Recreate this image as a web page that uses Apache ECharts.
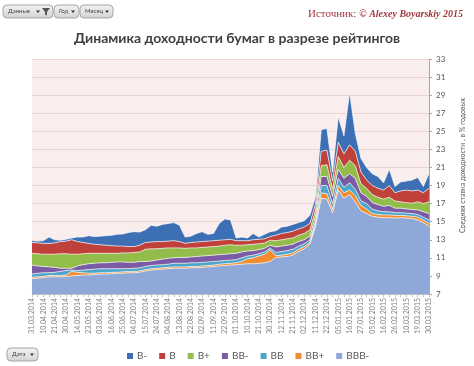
<!DOCTYPE html>
<html><head><meta charset="utf-8">
<script src="https://cdn.jsdelivr.net/npm/echarts@6/dist/echarts.min.js"></script>
<style>html,body{margin:0;padding:0;background:#fff}#c{width:474px;height:366px}</style>
</head><body><div id="c"></div>
<script>
// Tick labels of the date axis (every 2nd data point carries a label)
const dates = ['31.03.2014','10.04.2014','21.04.2014','30.04.2014','14.05.2014','23.05.2014','03.06.2014','16.06.2014','25.06.2014','04.07.2014','15.07.2014','24.07.2014','04.08.2014','13.08.2014','22.08.2014','02.09.2014','11.09.2014','22.09.2014','01.10.2014','10.10.2014','21.10.2014','30.10.2014','12.11.2014','21.11.2014','02.12.2014','11.12.2014','22.12.2014','05.01.2015','16.01.2015','27.01.2015','05.02.2015','16.02.2015','26.02.2015','10.03.2015','19.03.2015','30.03.2015'];
const yMin = 7, yMax = 33, yStep = 2;

// Stacked series values (bottom to top)
const bbbMinus = [8.7,8.75,8.8,8.9,8.9,8.9,8.95,9.0,9.05,9.1, 9.1,9.15,9.2,9.2,9.25,9.3,9.3,9.35,9.35,9.4, 9.55,9.65,9.7,9.75,9.8,9.85,9.85,9.85,9.9,9.9, 9.95,10.0,10.05,10.1,10.15,10.2,10.25,10.3,10.35,10.35, 10.4,10.45,10.6,11.05,11.1,11.15,11.3,11.7,12.0,12.5, 14.5,17.6,17.5,16.0,18.5,17.6,18.0,17.2,16.2,15.9, 15.6,15.5,15.45,15.45,15.4,15.45,15.4,15.35,15.2,14.9,14.5];
const bbPlus = [0.15,0.15,0.15,0.15,0.15,0.15,0.15,0.5,0.35,0.25, 0.2,0.15,0.15,0.15,0.15,0.1,0.15,0.15,0.15,0.15, 0.15,0.15,0.15,0.15,0.15,0.15,0.15,0.15,0.15,0.15, 0.15,0.15,0.15,0.2,0.2,0.2,0.2,0.3,0.55,0.65, 0.8,0.95,1.3,0.2,0.2,0.25,0.25,0.25,0.25,0.2, 0.3,0.6,0.6,0.4,0.5,0.6,0.5,0.7,0.6,0.5, 0.3,0.3,0.3,0.3,0.3,0.25,0.25,0.25,0.3,0.3,0.3];
const bb = [0.35,0.4,0.4,0.3,0.35,0.45,0.5,0.15,0.2,0.3, 0.4,0.45,0.45,0.45,0.4,0.4,0.35,0.3,0.35,0.35, 0.35,0.35,0.35,0.35,0.35,0.4,0.4,0.4,0.4,0.4, 0.4,0.4,0.4,0.35,0.35,0.35,0.35,0.4,0.3,0.3, 0.25,0.25,0.2,0.35,0.4,0.4,0.4,0.35,0.3,0.3, 0.3,0.8,0.9,0.6,0.8,0.6,0.8,0.7,0.5,0.6, 0.5,0.4,0.35,0.35,0.3,0.3,0.3,0.3,0.3,0.3,0.4];
const bbMinus = [1.0,0.8,0.7,0.65,0.55,0.35,0.25,0.2,0.5,0.6, 0.65,0.65,0.65,0.65,0.7,0.75,0.75,0.7,0.65,0.7, 0.55,0.5,0.55,0.6,0.65,0.6,0.65,0.65,0.65,0.7, 0.7,0.7,0.7,0.7,0.7,0.7,0.7,0.65,0.55,0.5, 0.45,0.4,0.3,0.6,0.6,0.6,0.55,0.5,0.45,0.4, 0.5,1.0,1.0,0.8,1.0,1.0,1.0,1.2,0.9,0.8, 0.7,0.7,0.6,0.7,0.5,0.5,0.45,0.45,0.5,0.6,0.7];
const bPlus = [1.3,1.35,1.35,1.4,1.45,1.6,1.6,1.55,1.3,1.2, 1.15,1.1,1.05,1.05,1.0,0.95,1.0,1.05,1.1,1.05, 1.35,1.35,1.25,1.2,1.15,1.1,1.05,1.0,1.0,0.95, 0.95,0.95,0.95,0.95,1.0,1.0,0.9,0.75,0.7,0.7, 0.65,0.6,0.55,0.7,0.7,0.7,0.7,0.7,0.7,0.7, 0.7,1.2,1.3,0.8,1.4,1.2,1.5,1.4,1.0,0.9, 0.9,0.8,0.8,0.9,0.8,0.7,0.7,0.7,0.9,0.9,1.3];
const bMid = [1.2,1.2,1.2,1.2,1.25,1.35,1.4,1.6,1.4,1.25, 1.1,1.0,0.95,0.9,0.85,0.8,0.75,0.7,0.65,0.75, 0.75,0.75,0.8,0.75,0.75,0.8,0.7,0.55,0.6,0.65, 0.65,0.65,0.65,0.65,0.6,0.6,0.5,0.5,0.45,0.5, 0.5,0.45,0.4,0.6,0.7,0.7,0.75,0.7,0.7,0.7, 0.7,1.6,1.6,0.9,1.6,1.5,1.7,1.6,1.3,0.9, 1.0,1.0,1.0,1.3,0.9,1.2,1.4,1.35,1.3,1.2,1.5];
const bMinus = [0.2,0.2,0.3,0.7,0.35,0.15,0.2,0.2,0.5,0.6, 0.85,0.85,0.95,1.05,1.15,1.3,1.35,1.55,1.65,1.45, 1.4,1.85,1.7,1.9,1.95,2.0,1.8,0.7,0.7,0.95, 1.1,0.75,0.8,1.85,2.3,2.15,0.3,0.4,0.3,0.7, 0.25,0.5,0.55,0.5,0.7,0.7,0.75,0.7,0.7,0.9, 0.8,2.4,2.4,1.0,2.8,2.0,5.8,2.0,1.5,1.4, 1.3,1.3,0.8,1.8,0.7,1.0,1.0,1.2,1.4,0.7,1.6];

const names = ['BBB-','BB+','BB','BB-','B+','B','B-'];
const values = [bbbMinus, bbPlus, bb, bbMinus, bPlus, bMid, bMinus];
const colors = ['#8EA8D8','#F28C2E','#4BA6C9','#7B5AA6','#92BD4B','#C0403A','#3D6FB4'];
const pointIds = bbbMinus.map((_, j) => 'p' + j);

const chart = echarts.init(document.getElementById('c'), null, {renderer:'canvas'});
const font = 'Lato, "Liberation Sans", sans-serif';

function button(x, y, w, label, funnel) {
  const children = [
    {type:'rect', shape:{x:0,y:0,width:w,height:13,r:4},
     style:{fill:new echarts.graphic.LinearGradient(0,0,0,1,[{offset:0,color:'#f4f4f4'},{offset:1,color:'#d2d2d2'}]), stroke:'#a6a6a6', lineWidth:1}},
    {type:'text', x:5, y:3.5, style:{text:label, fontSize:6, fontFamily:font, fill:'#444'}},
    {type:'polygon', shape:{points:[[w-(funnel?17:8),5.5],[w-(funnel?13:4),5.5],[w-(funnel?15:6),8]]}, style:{fill:'#333'}}
  ];
  if (funnel) children.push({type:'polygon', shape:{points:[[w-11,3],[w-3,3],[w-6,7],[w-6,10.5],[w-8,9.5],[w-8,7]]}, style:{fill:'#555'}});
  return {type:'group', x:x, y:y, children:children};
}

chart.setOption({
  backgroundColor:'#ffffff',
  animation:false,
  title:{text:'Динамика доходности бумаг в разрезе рейтингов', left:'center', top:26,
    textStyle:{fontSize:14, fontWeight:'bold', color:'#404040', fontFamily:font}},
  graphic:[
    button(3,5,50,'Данные',true), button(54,5,25,'Год',false), button(80,5,33,'Месяц',false),
    button(7,348,31,'Дата',false),
    {type:'text', left:308, top:9, style:{text:'{a|Источник: }{b|© Alexey Boyarskiy 2015}',
      rich:{a:{fontFamily:'"Liberation Serif", serif', fontSize:11, fill:'#A3373B'},
            b:{fontFamily:'"Liberation Serif", serif', fontSize:10, fontStyle:'italic', fontWeight:'bold', fill:'#A3373B'}}}}
  ],
  legend:{left:122, top:346, itemWidth:6, itemHeight:6, itemGap:12, icon:'rect',
    data:names.slice().reverse(), textStyle:{fontSize:10, color:'#595959', fontFamily:font, padding:[0,0,0,-1]}},
  grid:{left:32, right:45, top:59, bottom:72, show:true, backgroundColor:'#F9EDED', borderWidth:0},
  xAxis:{type:'category', data:pointIds, boundaryGap:false,
    axisLine:{lineStyle:{color:'#BFBFBF'}},
    axisTick:{show:true, interval:0, length:3, lineStyle:{color:'#BFBFBF'}},
    splitLine:{show:false},
    axisLabel:{rotate:90, interval:1, fontSize:7, color:'#808080', fontFamily:font, margin:4,
      formatter:(v, idx) => dates[idx/2] || ''}},
  yAxis:{type:'value', position:'right', min:yMin, max:yMax, interval:yStep,
    axisLine:{show:true, lineStyle:{color:'#A6A6A6'}},
    axisTick:{show:true, length:3, lineStyle:{color:'#A6A6A6'}},
    splitLine:{show:true, lineStyle:{color:'#E9D3D3', width:1}},
    axisLabel:{fontSize:8, color:'#595959', fontFamily:font, margin:7},
    name:'Средняя ставка доходности , в % годовых', nameLocation:'middle', nameRotate:90, nameGap:30,
    nameTextStyle:{fontSize:7, color:'#595959', fontFamily:font, padding:[0,0,0,22]}},
  series: names.map((n,i)=>({
    name:n, type:'line', stack:'total', showSymbol:false, symbol:'none',
    data: values[i],
    lineStyle:{color:'#ffffff', width:0.8, opacity:0.85},
    itemStyle:{color:colors[i]},
    areaStyle:{color:colors[i], opacity:1},
    z: 2
  }))
});
</script></body></html>
